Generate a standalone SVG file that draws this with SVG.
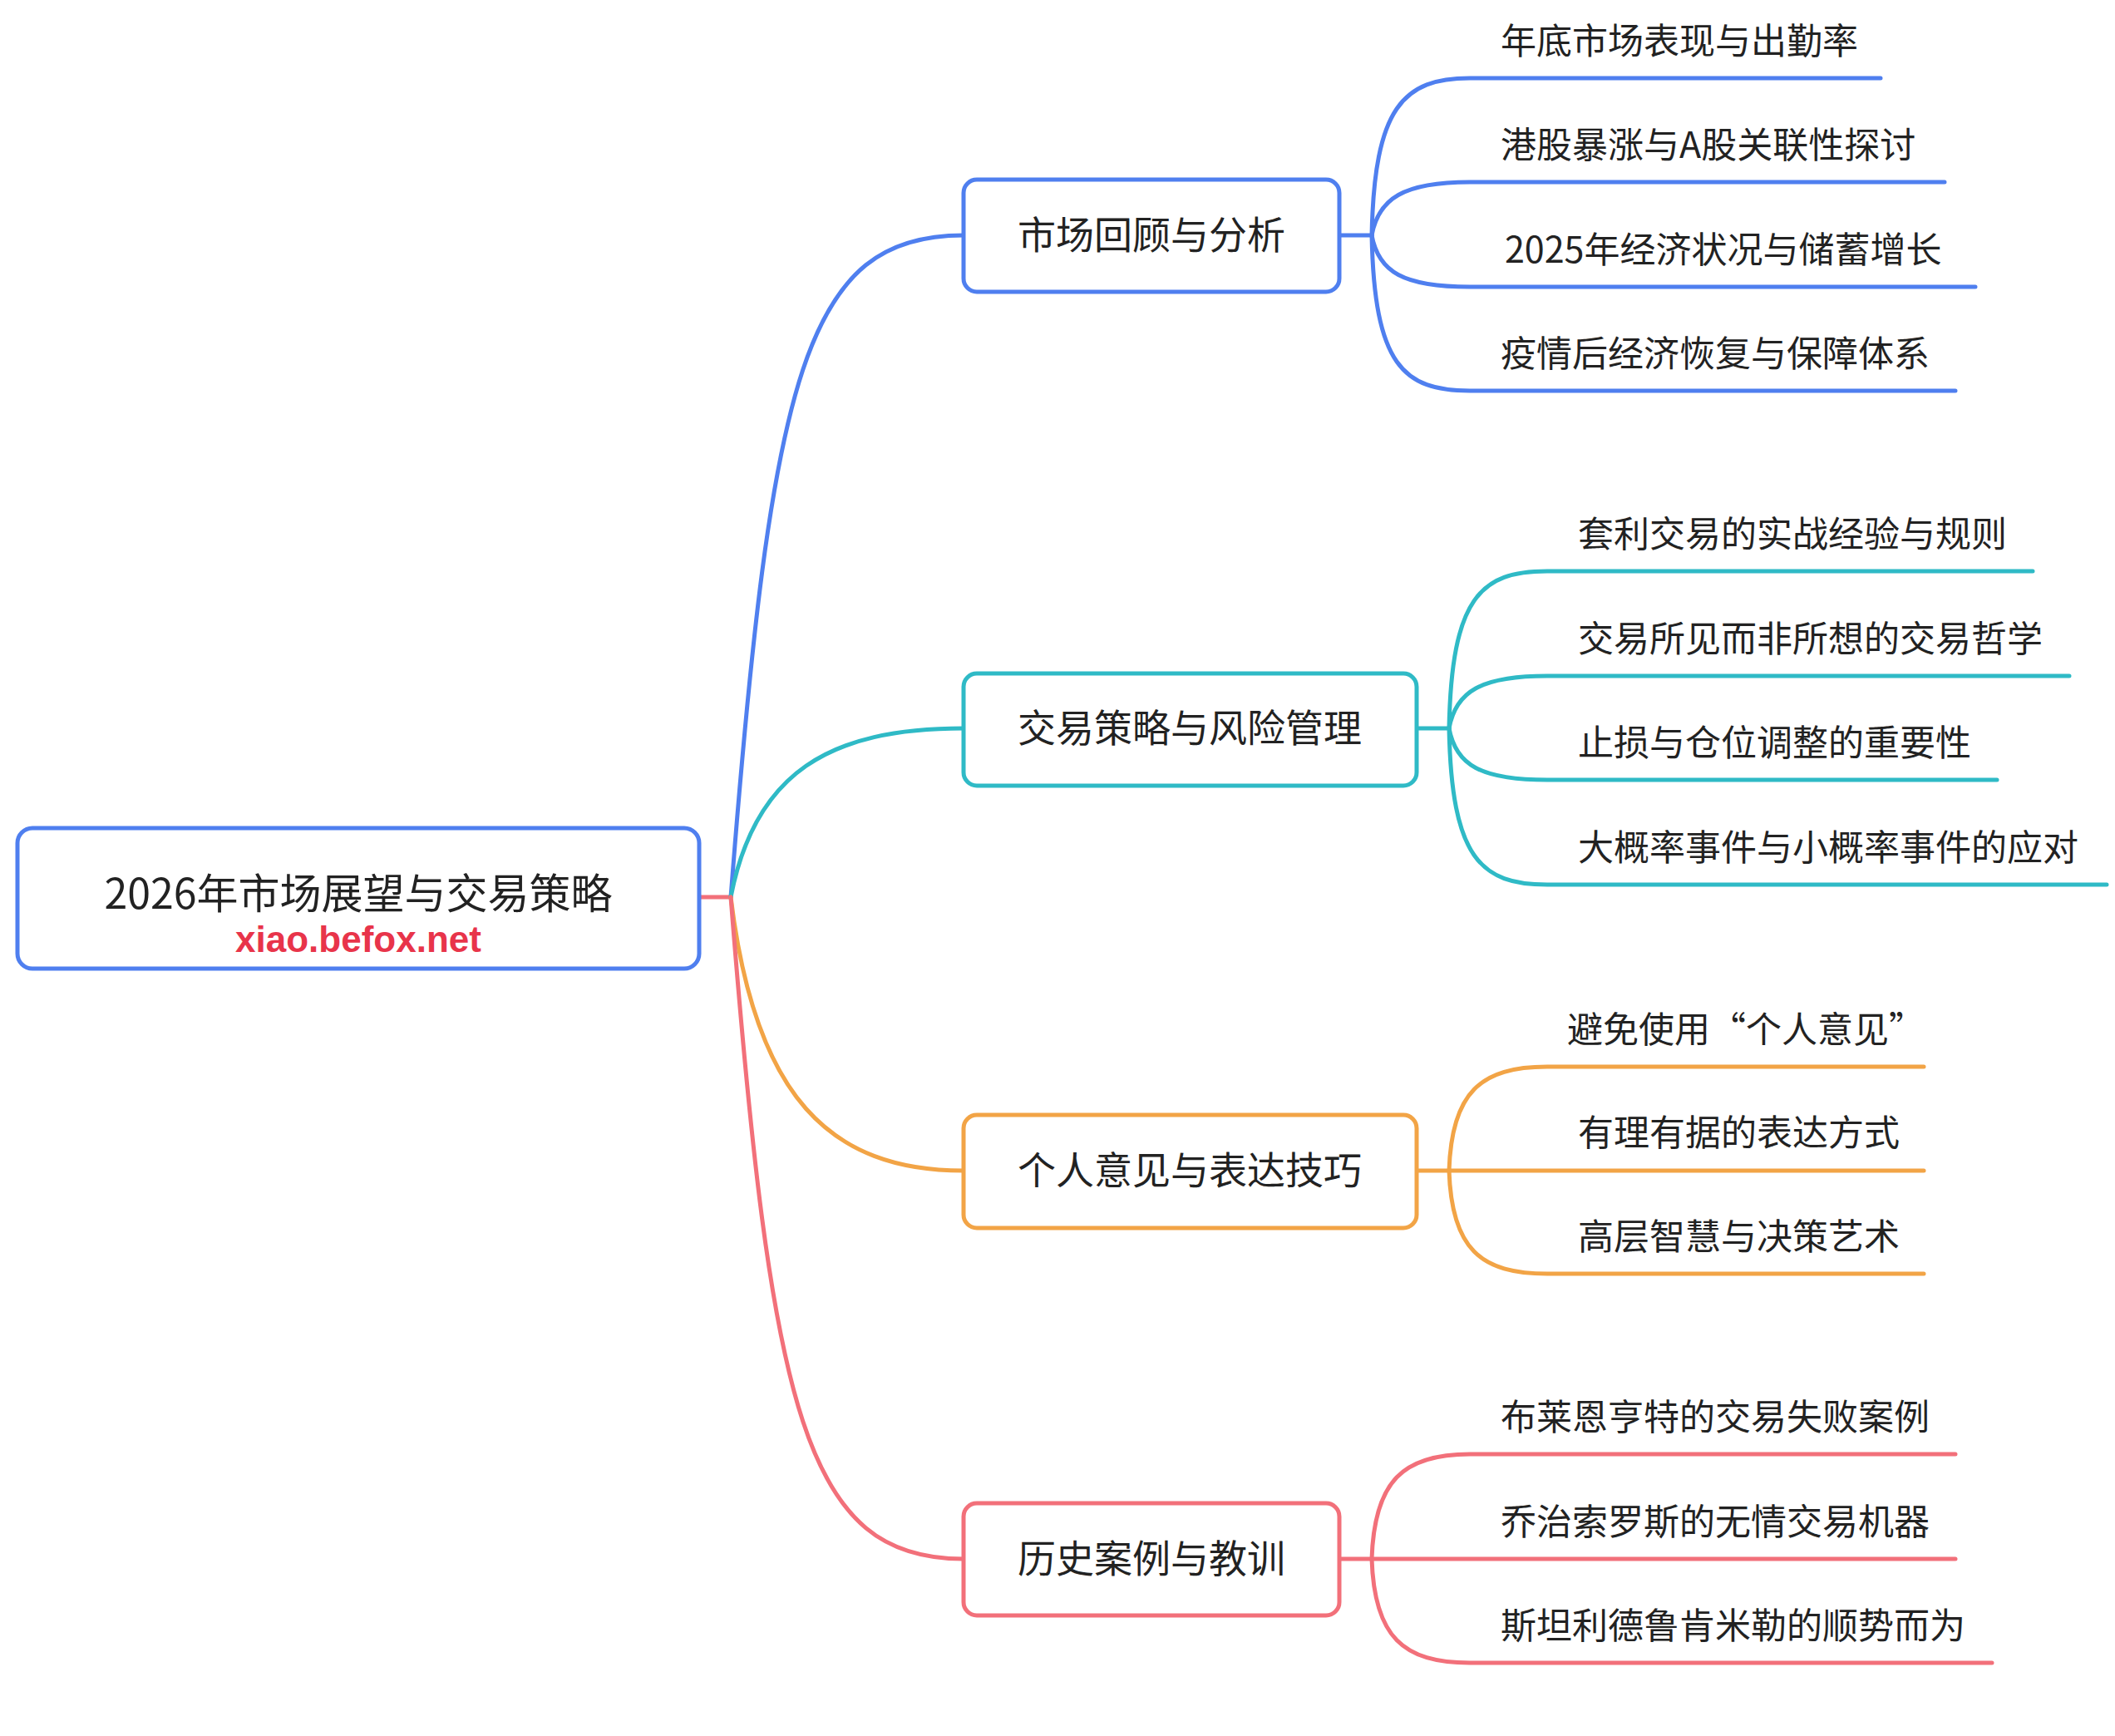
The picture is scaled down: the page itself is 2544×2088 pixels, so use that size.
<svg xmlns="http://www.w3.org/2000/svg" width="2544" height="2088" viewBox="0 0 2544 2088">
<style>
.t{font-family:"Noto Sans CJK SC","Noto Sans",sans-serif;fill:#222}
.n{font-size:46px;text-anchor:middle}
.l{font-size:43px}
path,line{fill:none;stroke-width:5;stroke-linecap:round}
rect{fill:#fff;stroke-width:5}
.b{stroke:#4F7FEF}.c{stroke:#2FBAC6}.o{stroke:#F2A446}.r{stroke:#F2707A}
</style>
<rect width="2544" height="2088" fill="#fff" stroke="none"/>
<g transform="translate(-2,-1)">
<g id="connectors">
<line class="r" x1="843" y1="1080" x2="881" y2="1080"/>
<path class="b" d="M881,1080 C930,450 970,284 1161,284"/>
<path class="c" d="M881,1080 C910,930 1000,877 1161,877"/>
<path class="o" d="M881,1080 C910,1320 1000,1409 1161,1409"/>
<path class="r" d="M881,1080 C930,1700 970,1876 1161,1876"/>
<g class="b">
<line x1="1613" y1="284" x2="1652" y2="284"/>
<path d="M1652,284 C1655,130 1690,95 1770,95 H2264"/>
<path d="M1652,284 C1660,240 1690,220 1770,220 H2341"/>
<path d="M1652,284 C1660,328 1690,346 1770,346 H2378"/>
<path d="M1652,284 C1655,440 1690,471 1770,471 H2354"/>
</g>
<g class="c">
<line x1="1706" y1="877" x2="1745" y2="877"/>
<path d="M1745,877 C1748,720 1783,688 1863,688 H2447"/>
<path d="M1745,877 C1753,833 1783,814 1863,814 H2491"/>
<path d="M1745,877 C1753,921 1783,939 1863,939 H2404"/>
<path d="M1745,877 C1748,1033 1783,1065 1863,1065 H2536"/>
</g>
<g class="o">
<line x1="1706" y1="1409" x2="1745" y2="1409"/>
<path d="M1745,1409 C1748,1315 1783,1284 1863,1284 H2316"/>
<path d="M1745,1409 H2316"/>
<path d="M1745,1409 C1748,1503 1783,1533 1863,1533 H2316"/>
</g>
<g class="r">
<line x1="1613" y1="1876" x2="1652" y2="1876"/>
<path d="M1652,1876 C1655,1782 1690,1750 1770,1750 H2354"/>
<path d="M1652,1876 H2354"/>
<path d="M1652,1876 C1655,1970 1690,2001 1770,2001 H2398"/>
</g>
</g>
<g id="root">
<rect x="23" y="997" width="820" height="169" rx="18" class="b"/>
<text class="t" x="433" y="1094" font-size="50" text-anchor="middle">2026年市场展望与交易策略</text>
<text x="433" y="1146" font-family="Liberation Sans,Arial,sans-serif" font-weight="bold" font-size="44" fill="#E8344A" text-anchor="middle">xiao.befox.net</text>
</g>
<g id="b1"><rect x="1161" y="217" width="452" height="135" rx="16" class="b"/><text class="t n" x="1387" y="300">市场回顾与分析</text></g>
<g id="b2"><rect x="1161" y="811" width="545" height="135" rx="16" class="c"/><text class="t n" x="1433" y="893">交易策略与风险管理</text></g>
<g id="b3"><rect x="1161" y="1342" width="545" height="136" rx="16" class="o"/><text class="t n" x="1433" y="1425">个人意见与表达技巧</text></g>
<g id="b4"><rect x="1161" y="1809" width="452" height="135" rx="16" class="r"/><text class="t n" x="1387" y="1892">历史案例与教训</text></g>
<g id="leaves" class="t l">
<text x="1807" y="66">年底市场表现与出勤率</text>
<text x="1807" y="191">港股暴涨与A股关联性探讨</text>
<text x="1812" y="317">2025年经济状况与储蓄增长</text>
<text x="1807" y="442">疫情后经济恢复与保障体系</text>
<text x="1900" y="659">套利交易的实战经验与规则</text>
<text x="1900" y="785">交易所见而非所想的交易哲学</text>
<text x="1900" y="910">止损与仓位调整的重要性</text>
<text x="1900" y="1036">大概率事件与小概率事件的应对</text>
<text x="1887" y="1255">避免使用“个人意见”</text>
<text x="1900" y="1379">有理有据的表达方式</text>
<text x="1900" y="1504">高层智慧与决策艺术</text>
<text x="1807" y="1721">布莱恩亨特的交易失败案例</text>
<text x="1807" y="1847">乔治索罗斯的无情交易机器</text>
<text x="1807" y="1972">斯坦利德鲁肯米勒的顺势而为</text>
</g>
</g>
</svg>
